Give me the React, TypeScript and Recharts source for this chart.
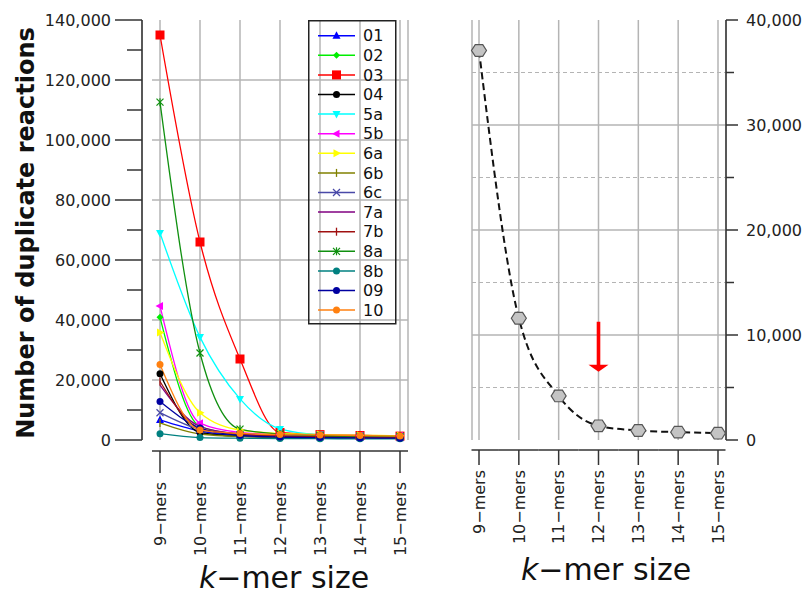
import { LineChart, Line, XAxis, YAxis, CartesianGrid, Legend, ReferenceDot } from 'recharts';

const kmers = ['9\u2212mers', '10\u2212mers', '11\u2212mers', '12\u2212mers', '13\u2212mers', '14\u2212mers', '15\u2212mers'];

// duplicate reactions per model, one value per k-mer size
const s01 = [6700, 3000, 1500, 1200, 1000, 900, 800];
const s02 = [40900, 4500, 2000, 1500, 1300, 1200, 1100];
const s03 = [135000, 66000, 27000, 2500, 1800, 1500, 1300];
const s04 = [22100, 2500, 1200, 900, 800, 700, 600];
const s5a = [69000, 34300, 13700, 3700, 1800, 1500, 1300];
const s5b = [44700, 5600, 2500, 1800, 1600, 1500, 1400];
const s6a = [35800, 9100, 3300, 2200, 1800, 1600, 1400];
const s6b = [5700, 2000, 1200, 1000, 900, 800, 700];
const s6c = [9100, 3500, 1800, 1200, 1000, 900, 800];
const s7a = [18300, 4500, 2000, 1400, 1200, 1000, 900];
const s7b = [19500, 3800, 1900, 1300, 1100, 1000, 900];
const s8a = [112600, 29000, 3600, 2000, 1500, 1300, 1200];
const s8b = [2100, 800, 600, 500, 450, 400, 400];
const s09 = [12800, 4000, 1500, 1000, 800, 700, 600];
const s10 = [25200, 3300, 2200, 1800, 1700, 1500, 1300];

// average over all models (right panel)
const average = [37100, 11600, 4200, 1350, 900, 750, 650];

const leftTicks = [0, 10000, 20000, 30000, 40000, 50000, 60000, 70000, 80000, 90000, 100000, 110000, 120000, 130000, 140000];
const rightTicks = [0, 5000, 10000, 15000, 20000, 25000, 30000, 35000, 40000];

const series = [
  { key: '01', values: s01, color: '#0000ff', shape: 'triUp' },
  { key: '02', values: s02, color: '#00ee00', shape: 'diamond' },
  { key: '03', values: s03, color: '#ff0000', shape: 'square' },
  { key: '04', values: s04, color: '#000000', shape: 'circle' },
  { key: '5a', values: s5a, color: '#00ffff', shape: 'triDown' },
  { key: '5b', values: s5b, color: '#ff00ff', shape: 'triLeft' },
  { key: '6a', values: s6a, color: '#ffff00', shape: 'triRight' },
  { key: '6b', values: s6b, color: '#808000', shape: 'vtick' },
  { key: '6c', values: s6c, color: '#4a4aa8', shape: 'cross' },
  { key: '7a', values: s7a, color: '#800080', shape: 'none' },
  { key: '7b', values: s7b, color: '#a01010', shape: 'vtick' },
  { key: '8a', values: s8a, color: '#109010', shape: 'star' },
  { key: '8b', values: s8b, color: '#008080', shape: 'circle' },
  { key: '09', values: s09, color: '#0000a0', shape: 'circle' },
  { key: '10', values: s10, color: '#ff8010', shape: 'circle' },
];

const leftData = kmers.map((k, i) => {
  const row: Record<string, string | number> = { k };
  series.forEach((s) => { row[s.key] = s.values[i]; });
  return row;
});
const rightData = kmers.map((k, i) => ({ k, avg: average[i] }));

const FONT = '"DejaVu Sans", Verdana, sans-serif';
const GRID = '#b4b4b4';
const AXIS = '#333';

const Marker = ({ shape, color, x, y }: { shape: string; color: string; x: number; y: number }) => {
  switch (shape) {
    case 'triUp':
      return <polygon points={`${x},${y - 4.5} ${x - 4},${y + 3} ${x + 4},${y + 3}`} fill={color} />;
    case 'triDown':
      return <polygon points={`${x},${y + 4.5} ${x - 4},${y - 3} ${x + 4},${y - 3}`} fill={color} />;
    case 'triLeft':
      return <polygon points={`${x - 4.5},${y} ${x + 3},${y - 4} ${x + 3},${y + 4}`} fill={color} />;
    case 'triRight':
      return <polygon points={`${x + 4.5},${y} ${x - 3},${y - 4} ${x - 3},${y + 4}`} fill={color} />;
    case 'diamond':
      return <polygon points={`${x},${y - 3.5} ${x + 3.5},${y} ${x},${y + 3.5} ${x - 3.5},${y}`} fill={color} />;
    case 'square':
      return <rect x={x - 4.5} y={y - 4.5} width={9} height={9} fill={color} />;
    case 'circle':
      return <circle cx={x} cy={y} r={3.5} fill={color} />;
    case 'vtick':
      return <line x1={x} x2={x} y1={y - 4} y2={y + 4} stroke={color} strokeWidth={1.3} />;
    case 'cross':
      return (
        <g stroke={color} strokeWidth={1.3}>
          <line x1={x - 3.5} y1={y - 3.5} x2={x + 3.5} y2={y + 3.5} />
          <line x1={x - 3.5} y1={y + 3.5} x2={x + 3.5} y2={y - 3.5} />
        </g>
      );
    case 'star':
      return (
        <g stroke={color} strokeWidth={1.2}>
          <line x1={x - 3.5} y1={y - 3.5} x2={x + 3.5} y2={y + 3.5} />
          <line x1={x - 3.5} y1={y + 3.5} x2={x + 3.5} y2={y - 3.5} />
          <line x1={x} y1={y - 4} x2={x} y2={y + 4} />
        </g>
      );
    default:
      return <g />;
  }
};

const Hexagon = ({ cx, cy }: any) => {
  const r = 7.5;
  const pts = [0, 60, 120, 180, 240, 300]
    .map((a) => `${cx + r * Math.cos((a * Math.PI) / 180)},${cy + r * 0.9 * Math.sin((a * Math.PI) / 180)}`)
    .join(' ');
  return <polygon points={pts} fill="#c4c4c4" stroke="#555" strokeWidth={1.2} />;
};

const LeftYTick = ({ x, y, payload }: any) => {
  const major = payload.value % 20000 === 0;
  return (
    <g>
      <line x1={x - (major ? 27 : 15)} x2={x} y1={y} y2={y} stroke={AXIS} strokeWidth={1.5} />
      {major && (
        <text x={x - 31} y={y} dy="0.36em" textAnchor="end" fontSize={16} fontFamily={FONT} fill="#222">
          {payload.value.toLocaleString('en-US')}
        </text>
      )}
    </g>
  );
};

const RightYTick = ({ x, y, payload }: any) => {
  const major = payload.value % 10000 === 0;
  return (
    <g>
      <line x1={x} x2={x + (major ? 12 : 8)} y1={y} y2={y} stroke={AXIS} strokeWidth={1.5} />
      {major && (
        <text x={x + 20} y={y} dy="0.36em" textAnchor="start" fontSize={16} fontFamily={FONT} fill="#222">
          {payload.value.toLocaleString('en-US')}
        </text>
      )}
    </g>
  );
};

// draws a piece of the detached x axis line, the tick mark and the rotated label
const makeXTick = (step: number, edge: number, lineGap: number, tickLen: number, labelGap: number) => {
  const XTick = ({ x, y, payload, index }: any) => {
    const left = index === 0 ? edge : step / 2;
    const right = index === kmers.length - 1 ? edge : step / 2;
    const ay = y + lineGap;
    return (
      <g>
        <line x1={x - left} x2={x + right} y1={ay} y2={ay} stroke={AXIS} strokeWidth={1.5} />
        <line x1={x} x2={x} y1={ay} y2={ay + tickLen} stroke={AXIS} strokeWidth={1.5} />
        <text
          x={x}
          y={ay + labelGap}
          transform={`rotate(-90 ${x} ${ay + labelGap})`}
          textAnchor="end"
          dy="0.36em"
          fontSize={16}
          fontFamily={FONT}
          fill="#222"
        >
          {payload.value}
        </text>
      </g>
    );
  };
  return XTick;
};

const LeftXTick = makeXTick(40, 8, 11, 22, 31);
const RightXTick = makeXTick(39.83, 7.5, 10, 15, 20);

const LegendBox = () => (
  <svg width={90} height={306} style={{ display: 'block', overflow: 'visible' }}>
    <rect x={0.75} y={0.75} width={87} height={303} fill="none" stroke="#222" strokeWidth={1.5} />
    {series.map((s, i) => {
      const y = 15.7 + i * 19.6;
      return (
        <g key={s.key}>
          <line x1={10} x2={47} y1={y} y2={y} stroke={s.color} strokeWidth={1.5} />
          <Marker shape={s.shape} color={s.color} x={28.5} y={y} />
          <text x={55} y={y} dy="0.36em" fontSize={16} fontFamily={FONT} fill="#111">
            {s.key}
          </text>
        </g>
      );
    })}
  </svg>
);

const Arrow = ({ cx, cy }: any) => (
  <g fill="#ff0000">
    <rect x={cx - 1.8} y={cy - 50} width={3.6} height={44} />
    <polygon points={`${cx - 10},${cy - 7} ${cx + 10},${cy - 7} ${cx},${cy}`} />
  </g>
);

export default function App() {
  return (
    <div style={{ position: 'relative', width: 808, height: 594, background: '#fff', overflow: 'hidden' }}>
      <style>{'body{margin:0}'}</style>
      <div style={{ position: 'absolute', left: 0, top: 0 }}>
        <LineChart width={420} height={594} data={leftData} margin={{ top: 20, right: 12, bottom: 0, left: 0 }}>
          <CartesianGrid
            x={152}
            width={256}
            stroke={GRID}
            strokeWidth={1.5}
            horizontalValues={[20000, 40000, 60000, 80000, 100000, 120000]}
          />
          <XAxis
            dataKey="k"
            height={154}
            padding={{ left: 18, right: 8 }}
            axisLine={false}
            tickLine={false}
            tickSize={0}
            tickMargin={0}
            interval={0}
            tick={<LeftXTick />}
          />
          <YAxis
            width={142}
            domain={[0, 140000]}
            ticks={leftTicks}
            interval={0}
            axisLine={{ stroke: AXIS, strokeWidth: 1.5 }}
            tickLine={false}
            tickSize={0}
            tickMargin={0}
            tick={<LeftYTick />}
          />
          <Legend
            layout="vertical"
            align="center"
            verticalAlign="middle"
            wrapperStyle={{ position: 'absolute', left: 308, top: 20, width: 90 }}
            content={() => <LegendBox />}
          />
          {series.map((s) => (
            <Line
              key={s.key}
              type="monotone"
              dataKey={s.key}
              stroke={s.color}
              strokeWidth={1.3}
              isAnimationActive={false}
              dot={(p: any) => <Marker key={`${s.key}-${p.index}`} shape={s.shape} color={s.color} x={p.cx} y={p.cy} />}
              activeDot={false}
            />
          ))}
        </LineChart>
      </div>
      <div style={{ position: 'absolute', left: 460, top: 0 }}>
        <LineChart width={348} height={594} data={rightData} margin={{ top: 20, right: 0, bottom: 0, left: 12 }}>
          <CartesianGrid stroke={GRID} strokeWidth={1.5} horizontalValues={[10000, 20000, 30000]} />
          <CartesianGrid
            stroke={GRID}
            strokeWidth={1.2}
            strokeDasharray="4 3"
            vertical={false}
            horizontalValues={[5000, 15000, 25000, 35000]}
          />
          <XAxis
            dataKey="k"
            height={154}
            padding={{ left: 7, right: 8 }}
            axisLine={false}
            tickLine={false}
            tickSize={0}
            tickMargin={0}
            interval={0}
            tick={<RightXTick />}
          />
          <YAxis
            orientation="right"
            width={82}
            domain={[0, 40000]}
            ticks={rightTicks}
            interval={0}
            axisLine={{ stroke: AXIS, strokeWidth: 1.5 }}
            tickLine={false}
            tickSize={0}
            tickMargin={0}
            tick={<RightYTick />}
          />
          <Line
            type="monotone"
            dataKey="avg"
            stroke="#111"
            strokeWidth={2}
            strokeDasharray="7 4"
            isAnimationActive={false}
            dot={(p: any) => <Hexagon key={`hex-${p.index}`} cx={p.cx} cy={p.cy} />}
            activeDot={false}
          />
          <ReferenceDot x={kmers[3]} y={6500} r={0} shape={<Arrow />} />
        </LineChart>
      </div>
      <svg width={808} height={594} style={{ position: 'absolute', left: 0, top: 0, pointerEvents: 'none' }}>
        <text
          x={25}
          y={233}
          transform="rotate(-90 25 233)"
          textAnchor="middle"
          dy="0.36em"
          fontSize={24}
          fontWeight="bold"
          fontFamily={FONT}
          fill="#111"
        >
          Number of duplicate reactions
        </text>
        <text x={284} y={588} textAnchor="middle" fontSize={30} fontFamily={FONT} fill="#111">
          <tspan fontStyle="italic">k</tspan>
          {'\u2212mer size'}
        </text>
        <text x={606} y={580} textAnchor="middle" fontSize={30} fontFamily={FONT} fill="#111">
          <tspan fontStyle="italic">k</tspan>
          {'\u2212mer size'}
        </text>
      </svg>
    </div>
  );
}
